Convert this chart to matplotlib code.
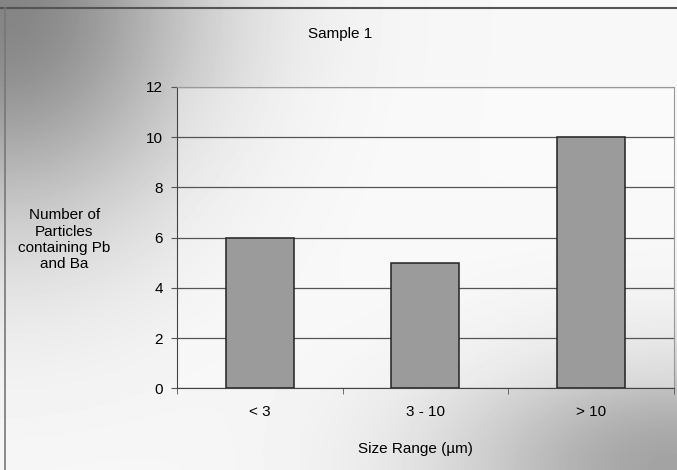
import matplotlib
matplotlib.use("Agg")
import matplotlib.pyplot as plt
import numpy as np

categories = ["< 3", "3 - 10", "> 10"]
counts = [6, 5, 10]
yticks = [0, 2, 4, 6, 8, 10, 12]

fig = plt.figure(figsize=(6.77, 4.70), dpi=100)

# background gradient (scanned-page look); row 0 = top of image
bg = fig.add_axes([0, 0, 1, 1], zorder=0)
h, w = 94, 135
yy, xx = np.mgrid[0:1:h*1j, 0:1:w*1j]
r_tl = np.sqrt((xx / 0.38) ** 2 + (yy / 0.6) ** 2)
r_br = np.sqrt(((1 - xx) / 0.45) ** 2 + ((1 - yy) / 0.35) ** 2)
shade = 0.97 - 0.45 * np.exp(-1.6 * r_tl ** 2) - 0.33 * np.exp(-1.8 * r_br ** 2)
shade = np.clip(shade, 0, 1)
bg.imshow(shade, cmap="gray", vmin=0, vmax=1, aspect="auto", extent=[0, 1, 0, 1],
          interpolation="bicubic", origin="upper")
bg.plot([0, 1], [0.983, 0.983], color="#555555", lw=1.5)
bg.plot([0.007, 0.007], [0, 0.983], color="#777777", lw=1.2)
bg.set_xlim(0, 1); bg.set_ylim(0, 1)
bg.axis("off")

ax = fig.add_axes([0.261, 0.174, 0.735, 0.641], zorder=1)
ax.set_facecolor((1, 1, 1, 0.35))
x = np.arange(len(categories))
ax.bar(x, counts, width=0.41, color="#9b9b9b", edgecolor="#222222", linewidth=1.1, zorder=3)
ax.set_xlim(-0.5, 2.5)
ax.set_ylim(0, 12)
ax.set_yticks(yticks)
ax.set_yticklabels([str(t) for t in yticks], fontsize=11, fontfamily="Liberation Sans")
ax.yaxis.grid(True, color="#555555", linewidth=0.9, zorder=1)
ax.set_xticks(x)
ax.set_xticklabels(categories, fontsize=11, fontfamily="Liberation Sans")
ax.set_xticks([-0.5, 0.5, 1.5, 2.5], minor=True)
ax.tick_params(axis="x", which="major", length=0, pad=12)
ax.tick_params(axis="x", which="minor", length=4, color="#555555")
ax.tick_params(axis="y", length=4, color="#555555", pad=6)
for s in ["top", "right"]:
    ax.spines[s].set_color("#999999")
ax.spines["left"].set_color("#444444")
ax.spines["bottom"].set_color("#444444")

fig.text(0.502, 0.928, "Sample 1", ha="center", va="center", fontsize=11, fontfamily="Liberation Sans")
fig.text(0.095, 0.49, "Number of\nParticles\ncontaining Pb\nand Ba", ha="center", va="center",
         fontsize=11, fontfamily="Liberation Sans", linespacing=1.2)
fig.text(0.613, 0.045, "Size Range (µm)", ha="center", va="center", fontsize=11, fontfamily="Liberation Sans")

fig.savefig("out.png", dpi=100)
